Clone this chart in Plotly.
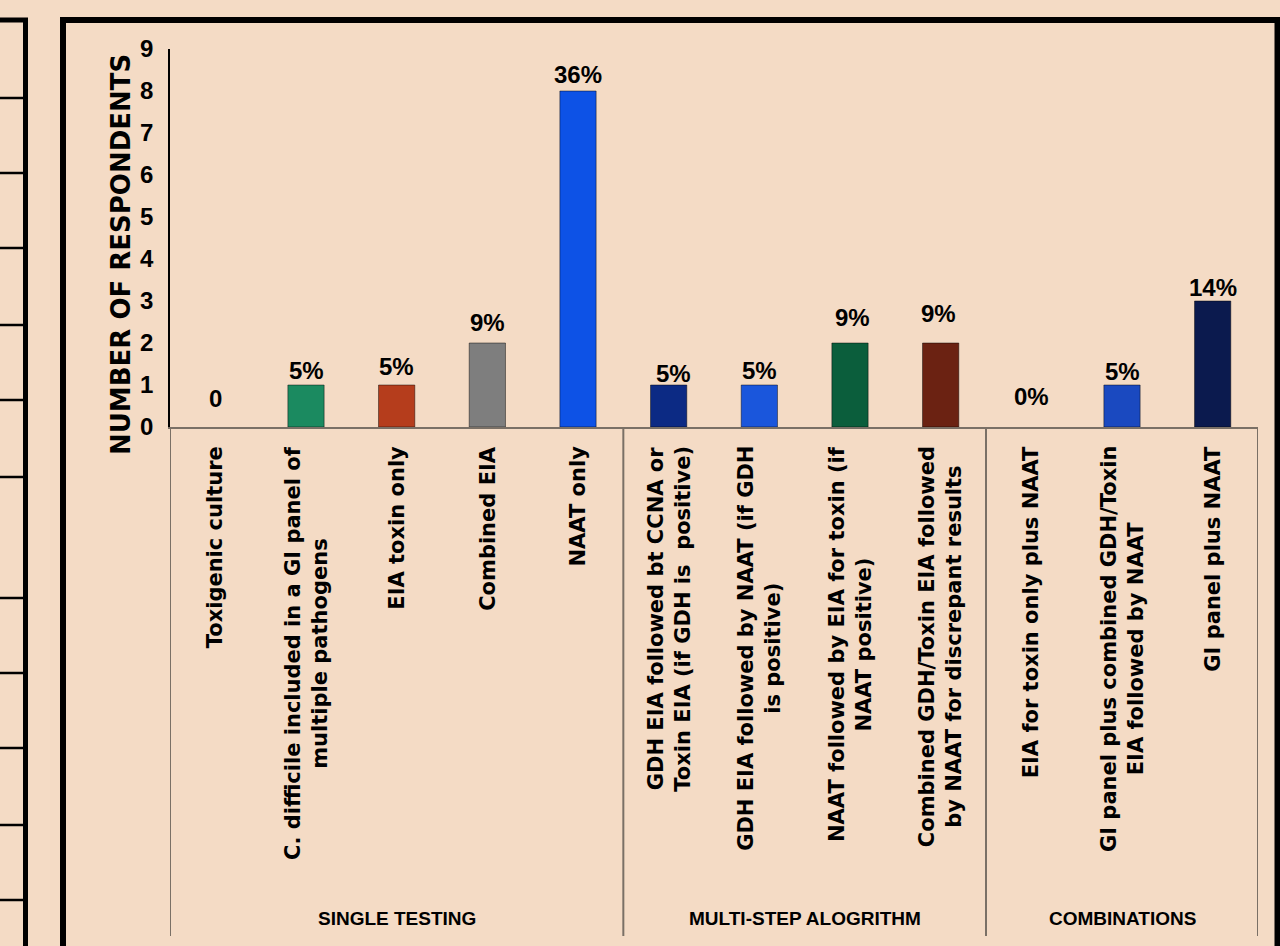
import plotly.graph_objects as go

# ---------------- data ----------------
categories = [
    "Toxigenic culture",
    "C. difficile included in a GI panel of<br>multiple pathogens",
    "EIA toxin only",
    "Combined EIA",
    "NAAT only",
    "GDH EIA followed bt CCNA or<br>Toxin EIA (if GDH is  positive)",
    "GDH EIA followed by NAAT (if GDH<br>is positive)",
    "NAAT followed by EIA for toxin (if<br>NAAT positive)",
    "Combined GDH/Toxin EIA followed<br>by NAAT for discrepant results",
    "EIA for toxin only plus NAAT",
    "GI panel plus combined GDH/Toxin<br>EIA followed by NAAT",
    "GI panel plus NAAT",
]
respondents = [0, 1, 1, 2, 8, 1, 1, 2, 2, 0, 1, 3]
pct_labels = ["0", "5%", "5%", "9%", "36%", "5%", "5%", "9%", "9%", "0%", "5%", "14%"]
groups = ["SINGLE TESTING", "MULTI-STEP ALOGRITHM", "COMBINATIONS"]
group_sizes = [5, 4, 3]
y_ticks = [0, 1, 2, 3, 4, 5, 6, 7, 8, 9]
y_title = "NUMBER OF RESPONDENTS"

# ---------------- style ----------------
bar_colors = ["#1b8a60", "#1b8a60", "#b53d1c", "#7e7e7e", "#0d52e6", "#0c2a84",
              "#1a56dc", "#0b5e3c", "#6b2212", "#1a49c0", "#1a49c0", "#0b1a4e"]
label_shift = [29, 15, 19, 21, 17, 12, 15, 26, 30, 31, 14, 14]  # px above bar top
label_dx = [0, 0, 0, 0, 0, 5, 0, 2, -2, 0, 0, 0]
BG = "#F4DBC5"
NARROW = "Liberation Sans, Arial, sans-serif"
WIDE = "DejaVu Sans, Verdana, sans-serif"

W, H = 1280, 946
L, R, T, B = 170, 22, 49, 519
PW, PH = W - L - R, H - T - B


def px(x):
    return (x - L) / PW


def py(y):
    return (H - B - y) / PH


x_idx = list(range(len(categories)))
line_w = [0 if v == 0 else 1 for v in respondents]

fig = go.Figure()
fig.add_trace(go.Bar(
    x=x_idx, y=respondents, width=0.4,
    marker=dict(color=bar_colors, line=dict(color="rgba(0,0,0,0.45)", width=line_w)),
    hoverinfo="skip",
))

annotations = []
# value labels
for i, (v, t) in enumerate(zip(respondents, pct_labels)):
    annotations.append(dict(
        x=i, y=v, xref="x", yref="y", text=t, showarrow=False,
        yanchor="middle", xanchor="center", yshift=label_shift[i], xshift=label_dx[i],
        font=dict(family=NARROW, size=24, color="black", weight="bold"),
    ))
# category labels (rotated)
for i, c in enumerate(categories):
    annotations.append(dict(
        x=i, y=py(444), xref="x", yref="paper", text=c, showarrow=False,
        textangle=-90, xanchor="center", yanchor="top", align="center",
        font=dict(family=WIDE, size=21, color="black", weight="bold"),
    ))
# group labels
start = 0
for g, n in zip(groups, group_sizes):
    annotations.append(dict(
        x=start + (n - 1) / 2, y=py(918), xref="x", yref="paper", text=g,
        showarrow=False, xanchor="center", yanchor="middle",
        font=dict(family=NARROW, size=19, color="black", weight="bold"),
    ))
    start += n
# y axis title
annotations.append(dict(
    x=px(121), y=py(255), xref="paper", yref="paper", text=y_title,
    showarrow=False, textangle=-90, xanchor="center", yanchor="middle",
    font=dict(family=WIDE, size=26, color="black", weight="bold"),
))

shapes = []
# group separators
bounds = [-0.5]
for n in group_sizes:
    bounds.append(bounds[-1] + n)
for b in bounds:
    shapes.append(dict(type="line", xref="x", yref="paper", x0=b, x1=b,
                       y0=0, y1=py(936), line=dict(color="#7a7066", width=2)))
# main panel border
shapes.append(dict(type="rect", xref="paper", yref="paper",
                   x0=px(63), x1=px(1277.5), y0=py(20), y1=py(990),
                   line=dict(color="black", width=6)))
# left partial panel
shapes.append(dict(type="rect", xref="paper", yref="paper",
                   x0=px(-20), x1=px(25.5), y0=py(20), y1=py(990),
                   line=dict(color="black", width=5)))
for yy in [98, 173, 248, 325, 400, 477, 598, 673, 748, 825, 900]:
    shapes.append(dict(type="line", xref="paper", yref="paper",
                       x0=px(0), x1=px(25), y0=py(yy), y1=py(yy),
                       line=dict(color="black", width=2.5)))

fig.update_layout(
    width=W, height=H, autosize=False,
    margin=dict(l=L, r=R, t=T, b=B, pad=0),
    paper_bgcolor=BG, plot_bgcolor=BG,
    showlegend=False,
    annotations=annotations, shapes=shapes,
    xaxis=dict(range=[-0.5, len(categories) - 0.5], showticklabels=False,
               showgrid=False, zeroline=False, showline=True,
               linecolor="#7a7066", linewidth=2, ticks=""),
    yaxis=dict(range=[0, 9], tickvals=y_ticks, showgrid=False, zeroline=False,
               showline=True, linecolor="black", linewidth=1.5, ticks="",
               ticklabelstandoff=10,
               tickfont=dict(family=NARROW, size=24, color="black", weight="bold")),
)

fig.write_html("out.html")
